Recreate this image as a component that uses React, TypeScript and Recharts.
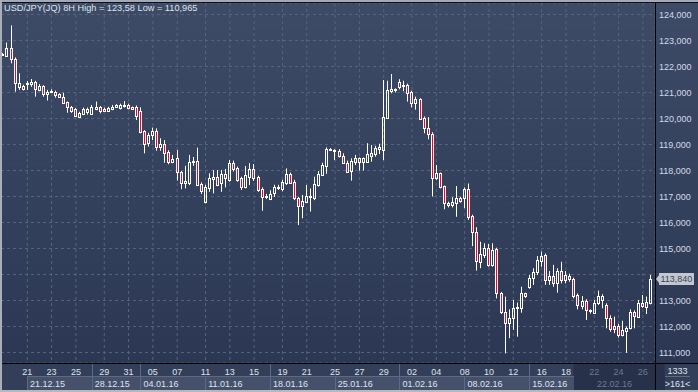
import React from 'react';
import { ComposedChart, Bar, Line, XAxis, YAxis, CartesianGrid } from 'recharts';

const opens = [
  122.46, 122.42, 122.70, 122.30, 121.22, 121.25, 121.33, 121.31, 121.42, 121.10,
  121.25, 120.94, 121.02, 121.03, 120.93, 120.84, 120.63, 120.43, 120.38, 120.07,
  120.17, 120.26, 120.17, 120.35, 120.43, 120.38, 120.30, 120.35, 120.46, 120.40,
  120.50, 120.52, 120.43, 120.43, 120.30, 119.52, 119.05, 119.37, 119.52, 118.92,
  119.02, 118.71, 118.34, 118.47, 117.95, 117.50, 117.50, 118.33, 118.37, 117.48,
  116.80, 117.31, 117.66, 117.76, 117.50, 117.85, 117.64, 118.30, 118.08, 117.70,
  117.38, 117.76, 118.05, 117.74, 117.29, 116.98, 116.89, 117.12, 117.32, 117.28,
  117.53, 117.87, 117.57, 116.93, 116.63, 116.80, 116.97, 116.93, 117.44, 117.83,
  118.17, 118.80, 118.75, 118.76, 118.56, 118.30, 117.99, 118.34, 118.47, 118.34,
  118.34, 118.56, 118.63, 118.82, 118.79, 120.01, 121.07, 121.08, 121.42, 121.24,
  121.29, 121.03, 120.61, 120.74, 120.01, 119.62, 119.40, 117.70, 117.89, 117.40,
  116.74, 116.69, 116.76, 116.93, 116.93, 117.29, 116.25, 115.62, 114.49, 114.75,
  115.01, 114.37, 114.98, 113.27, 112.57, 112.15, 112.31, 112.70, 112.70, 113.27,
  113.51, 113.85, 114.11, 114.53, 114.75, 113.79, 113.94, 113.66, 114.13, 113.79,
  113.94, 113.81, 113.21, 112.79, 112.98, 112.62, 112.53, 112.89, 113.00, 112.83,
  112.31, 112.02, 112.02, 111.67, 111.84, 111.93, 112.57, 112.38, 112.92, 112.76,
  112.89,
];
const highs = [
  122.52, 122.92, 123.58, 122.35, 121.74, 121.30, 121.44, 121.52, 121.45, 121.32,
  121.28, 121.10, 121.12, 121.07, 120.97, 120.99, 120.65, 120.48, 120.40, 120.26,
  120.42, 120.42, 120.52, 120.65, 120.48, 120.42, 120.45, 120.52, 120.55, 120.57,
  120.67, 120.57, 120.46, 120.50, 120.43, 119.55, 119.45, 119.65, 119.62, 119.24,
  119.17, 118.78, 118.60, 118.79, 117.98, 118.18, 118.60, 118.52, 118.88, 117.54,
  117.45, 117.89, 118.02, 118.02, 118.02, 118.06, 118.40, 118.38, 118.15, 117.76,
  118.17, 118.28, 118.25, 117.80, 117.35, 117.10, 117.24, 117.45, 117.45, 117.64,
  118.08, 117.92, 117.64, 116.99, 117.06, 117.44, 117.31, 117.76, 117.98, 118.30,
  118.89, 118.86, 118.82, 118.82, 118.66, 118.38, 118.47, 118.60, 118.50, 118.50,
  119.05, 118.98, 118.95, 119.03, 121.48, 121.45, 121.71, 121.16, 121.51, 121.45,
  121.34, 121.07, 120.84, 120.78, 120.08, 120.05, 119.47, 118.21, 117.92, 117.42,
  116.80, 116.97, 117.40, 116.99, 117.35, 117.50, 116.30, 115.82, 115.26, 115.20,
  115.17, 115.20, 115.03, 113.33, 113.15, 112.66, 113.02, 112.92, 113.53, 113.30,
  113.98, 114.24, 114.71, 114.88, 114.81, 114.13, 114.37, 114.24, 114.49, 114.13,
  114.03, 113.88, 113.27, 113.17, 113.05, 112.66, 113.02, 113.38, 113.24, 112.89,
  112.43, 112.38, 112.10, 112.22, 112.00, 112.66, 112.62, 113.02, 113.21, 113.15,
  113.98,
];
const lows = [
  122.43, 122.40, 122.12, 121.03, 121.10, 121.08, 121.10, 121.22, 120.84, 121.05,
  120.84, 120.69, 120.98, 120.80, 120.80, 120.58, 120.22, 120.22, 120.07, 120.02,
  120.13, 120.15, 120.15, 120.32, 120.20, 120.25, 120.26, 120.32, 120.42, 120.35,
  120.42, 120.35, 120.33, 119.94, 119.43, 118.66, 118.92, 119.17, 118.76, 118.76,
  118.30, 118.24, 118.28, 117.61, 117.28, 117.31, 117.44, 118.18, 117.40, 117.10,
  116.74, 117.18, 117.12, 117.40, 117.18, 117.35, 117.57, 117.96, 117.57, 117.25,
  117.31, 117.44, 117.60, 117.18, 116.45, 116.90, 116.86, 116.98, 117.25, 117.20,
  117.44, 117.50, 116.86, 115.90, 116.16, 116.76, 116.42, 116.86, 117.38, 117.80,
  117.87, 118.77, 118.40, 118.50, 118.25, 117.92, 117.61, 118.21, 117.99, 118.00,
  118.30, 118.34, 118.53, 118.63, 118.40, 119.98, 120.97, 121.00, 121.12, 121.05,
  120.65, 120.43, 120.34, 119.94, 119.43, 119.20, 117.00, 117.64, 117.31, 116.51,
  116.58, 116.58, 116.22, 116.76, 116.55, 116.10, 115.09, 114.15, 114.24, 114.63,
  114.30, 114.30, 113.08, 112.48, 110.965, 111.55, 111.87, 111.61, 112.53, 113.10,
  113.45, 113.60, 113.98, 114.30, 113.60, 113.60, 113.53, 113.30, 113.66, 113.66,
  113.72, 113.08, 112.66, 112.66, 112.25, 112.50, 112.48, 112.83, 112.70, 111.93,
  111.80, 111.74, 111.57, 111.62, 110.99, 111.89, 111.93, 112.35, 112.72, 112.48,
  112.85,
];
const closes = [
  122.49, 122.70, 122.28, 121.35, 121.35, 121.12, 121.38, 121.42, 121.12, 121.25,
  120.94, 121.03, 121.06, 120.90, 120.84, 120.61, 120.43, 120.30, 120.11, 120.20,
  120.35, 120.35, 120.43, 120.45, 120.30, 120.30, 120.40, 120.43, 120.50, 120.51,
  120.53, 120.40, 120.36, 120.11, 119.49, 119.02, 119.37, 119.52, 118.92, 119.02,
  118.68, 118.34, 118.43, 117.95, 117.50, 117.60, 118.32, 118.38, 117.44, 117.22,
  117.38, 117.70, 117.76, 117.44, 117.85, 117.70, 118.30, 118.05, 117.64, 117.38,
  117.83, 118.05, 117.73, 117.25, 116.97, 117.02, 117.10, 117.35, 117.36, 117.57,
  117.87, 117.53, 116.93, 116.63, 116.83, 117.00, 117.02, 117.48, 117.87, 118.21,
  118.83, 118.83, 118.79, 118.56, 118.28, 117.95, 118.38, 118.47, 118.34, 118.47,
  118.63, 118.68, 118.88, 118.90, 120.07, 121.10, 121.12, 121.13, 121.22, 121.28,
  120.99, 120.61, 120.74, 119.97, 119.62, 119.40, 117.70, 117.89, 117.38, 116.74,
  116.66, 116.78, 116.93, 116.83, 117.29, 116.22, 115.62, 114.53, 114.79, 115.01,
  114.37, 114.94, 113.27, 112.57, 112.15, 112.31, 112.70, 112.74, 113.27, 113.17,
  113.85, 114.11, 114.56, 114.71, 113.79, 113.94, 113.66, 114.13, 113.79, 113.98,
  113.81, 113.17, 112.83, 112.98, 112.63, 112.58, 112.92, 113.17, 113.17, 112.31,
  111.89, 111.89, 111.67, 111.86, 111.93, 112.57, 112.42, 112.92, 112.78, 112.95,
  113.84,
];

const dayTickIdx = [6, 12, 18, 25, 31, 37, 43, 50, 56, 62, 69, 75, 82, 88, 94, 101, 107, 114, 120, 126, 133, 139, 146, 152, 158];
const dayTickLabels = ['21', '23', '25', '29', '31', '05', '07', '11', '13', '15', '19', '21', '25', '27', '29', '02', '04', '08', '10', '12', '16', '18', '22', '24', '26'];
const weekTickIdx = [6, 22, 34, 50, 66, 82, 98, 114, 130, 146];
const weekTickLabels = ['21.12.15', '28.12.15', '04.01.16', '11.01.16', '18.01.16', '25.01.16', '01.02.16', '08.02.16', '15.02.16', '22.02.16'];
const currentFromIdx = 141;
const priceTicks = [111, 112, 113, 114, 115, 116, 117, 118, 119, 120, 121, 122, 123, 124];
const priceDomain = [110.596, 124.442];
const titleText = 'USD/JPY(JQ) 8H High = 123,58 Low = 110,965';
const barsTotal = '1333';
const barsVisible = '>161<';

const N = opens.length;
const lastClose = closes[N - 1];
const data = opens.map((o, i) => ({
  i,
  open: o,
  high: highs[i],
  low: lows[i],
  close: closes[i],
  range: [lows[i], highs[i]],
}));

const FONT = '"Liberation Sans", Arial, sans-serif';
const RED = '#f0002c';
const TEXT = '#dfe4ec';
const DIM_TEXT = '#6e798e';
const DIM_BG = '#27314a';
const BOX_BG = '#45516b';
const BORDER = '#5e6a83';
const GRID = '#56647f';

const fmtPrice = (v: number) => v.toFixed(3).replace('.', ',');

const Candle = (props: any) => {
  const { x, y, width, height, payload } = props;
  if (!payload || x == null) return <g />;
  const { open, close, high, low } = payload;
  const top = Math.min(y, y + height);
  const span = Math.abs(height);
  const k = span / (high - low);
  const py = (v: number) => top + (high - v) * k;
  const cx = Math.floor(x + width / 2) + 0.5;
  const yH = py(high);
  const yL = py(low);
  const yT = Math.round(py(Math.max(open, close))) + 0.5;
  let yB = Math.round(py(Math.min(open, close))) + 0.5;
  if (yB - yT < 1) yB = yT + 1;
  const bear = close < open;
  return (
    <g>
      {yT > yH && <line x1={cx} x2={cx} y1={yH} y2={yT} stroke="#ffffff" strokeWidth={1} />}
      {yL > yB && <line x1={cx} x2={cx} y1={yB} y2={yL} stroke="#ffffff" strokeWidth={1} />}
      <rect x={cx - 1} y={yT} width={2} height={yB - yT} fill={bear ? RED : 'none'} stroke="#ffffff" strokeWidth={1} />
    </g>
  );
};

const DayTick = (props: any) => {
  const { x, y, payload } = props;
  const idx = payload.value;
  const k = dayTickIdx.indexOf(idx);
  const band = 2 * (payload.offset || 2.025);
  const dim = idx >= currentFromIdx;
  const firstDim = idx === dayTickIdx.find((v) => v >= currentFromIdx);
  const left = x - (idx - currentFromIdx) * band - 0.5;
  return (
    <g>
      {firstDim && <rect x={left} y={y} width={(N - currentFromIdx) * band + 10} height={13} fill={DIM_BG} />}
      <text x={x} y={y + 12} textAnchor="middle" fontFamily={FONT} fontSize={9} fill={dim ? DIM_TEXT : TEXT}>
        {dayTickLabels[k]}
      </text>
    </g>
  );
};

const WeekTick = (props: any) => {
  const { x, y, payload } = props;
  const idx = payload.value;
  const k = weekTickIdx.indexOf(idx);
  const band = 2 * (payload.offset || 2.025);
  const isLast = k === weekTickIdx.length - 1;
  const start = isLast ? currentFromIdx : idx;
  const end = isLast ? N : k + 1 === weekTickIdx.length - 1 ? currentFromIdx : weekTickIdx[k + 1];
  const left = Math.round(x - (idx - start) * band - 0.5);
  const right = Math.round(x + (end - idx) * band - 0.5) + (isLast ? 10 : 0);
  const labeledDay = dayTickIdx.includes(start);
  return (
    <g>
      <rect x={left} y={y} width={right - left} height={14} fill={isLast ? DIM_BG : BOX_BG} />
      {!isLast && <line x1={left} x2={right} y1={y + 0.5} y2={y + 0.5} stroke={BORDER} />}
      {!isLast && (
        <line x1={left + 0.5} x2={left + 0.5} y1={labeledDay ? y : y - 13} y2={y + 14} stroke={BORDER} />
      )}
      <text x={x + 2.7} y={y + 10.7} fontFamily={FONT} fontSize={9} fill={isLast ? DIM_TEXT : TEXT}>
        {weekTickLabels[k]}
      </text>
    </g>
  );
};

// tick labels hidden behind the last-price tag are not drawn (as in the original chart)
const PriceTick = (props: any) => {
  const { x, y, payload } = props;
  if (Math.abs(payload.value - lastClose) < 0.45) return <g />;
  return (
    <text x={x + 4} y={y + 3.3} fontFamily={FONT} fontSize={9} fill="#d3dae6">
      {fmtPrice(payload.value)}
    </text>
  );
};

const PriceTag = (props: any) => {
  const { cx, cy, index } = props;
  if (index !== N - 1 || cx == null) return <g key={`d${index}`} />;
  const tip = cx + 5;
  const c = Math.round(cy);
  return (
    <g key={`d${index}`}>
      <polygon points={`${tip},${c} ${tip + 3.5},${c - 4.5} ${tip + 3.5},${c + 4.5}`} fill="#c3c7cf" />
      <rect x={tip + 3} y={c - 6} width={35} height={12} fill="#c3c7cf" />
      <text x={tip + 4.5} y={c + 3.3} fontFamily={FONT} fontSize={9} fill="#3a4560">
        {fmtPrice(lastClose)}
      </text>
    </g>
  );
};

export default function App() {
  return (
    <div style={{ position: 'absolute', left: 0, top: 0, width: 698, height: 392, overflow: 'hidden' }}>
      <svg width={698} height={392} style={{ position: 'absolute', left: 0, top: 0 }}>
        <defs>
          <linearGradient id="bg" x1="0" y1="0" x2="0" y2="1">
            <stop offset="0" stopColor="#3d4b67" />
            <stop offset="1" stopColor="#2c3853" />
          </linearGradient>
        </defs>
        <rect x={0} y={0} width={698} height={363} fill="url(#bg)" />
        <rect x={0} y={363} width={698} height={29} fill="#333e58" />
      </svg>
      <div style={{ position: 'absolute', left: 0, top: 0 }}>
        <ComposedChart width={698} height={392} data={data} margin={{ top: 3, right: 0, bottom: 0, left: 1 }}>
          <CartesianGrid xAxisId="day" yAxisId="p" stroke={GRID} strokeDasharray="3 3" />
          <XAxis
            xAxisId="day"
            dataKey="i"
            type="category"
            ticks={dayTickIdx}
            interval={0}
            height={13}
            tickSize={0}
            tickMargin={0}
            axisLine={false}
            tickLine={false}
            tick={<DayTick />}
            padding={{ left: 0, right: 2 }}
          />
          <XAxis
            xAxisId="week"
            dataKey="i"
            type="category"
            ticks={weekTickIdx}
            interval={0}
            height={16}
            tickSize={0}
            tickMargin={0}
            axisLine={false}
            tickLine={false}
            tick={<WeekTick />}
            padding={{ left: 0, right: 2 }}
          />
          <YAxis
            yAxisId="p"
            orientation="right"
            type="number"
            width={43}
            domain={priceDomain}
            ticks={priceTicks}
            interval={0}
            axisLine={false}
            tickLine={false}
            tickSize={0}
            tickMargin={0}
            tick={<PriceTick />}
          />
          <Bar xAxisId="day" yAxisId="p" dataKey="range" shape={<Candle />} isAnimationActive={false} />
          <Line
            xAxisId="week"
            yAxisId="p"
            dataKey="close"
            stroke="none"
            isAnimationActive={false}
            dot={(p: any) => <PriceTag key={`d${p.index}`} {...p} />}
            activeDot={false}
          />
        </ComposedChart>
      </div>
      <svg width={698} height={392} style={{ position: 'absolute', left: 0, top: 0, pointerEvents: 'none' }}>
        <rect x={0} y={0} width={698} height={2} fill="#a3aab6" />
        <rect x={0} y={0} width={2} height={392} fill="#a9afb9" />
        <rect x={0} y={390} width={698} height={2} fill="#b3b8c1" />
        <line x1={2} x2={698} y1={2.5} y2={2.5} stroke="#0b0f18" />
        <line x1={2} x2={698} y1={363.5} y2={363.5} stroke="#000000" />
        <line x1={655.5} x2={655.5} y1={2} y2={390} stroke="#000000" />
        <text x={4} y={11} fontFamily={FONT} fontSize={9.2} fill={TEXT}>
          {titleText}
        </text>
        <text x={677.5} y={373.5} textAnchor="middle" fontFamily={FONT} fontSize={9} fill={TEXT}>
          {barsTotal}
        </text>
        <line x1={665} x2={690} y1={376.5} y2={376.5} stroke={BORDER} />
        <text x={677.5} y={387} textAnchor="middle" fontFamily={FONT} fontSize={9} fill={TEXT}>
          {barsVisible}
        </text>
      </svg>
    </div>
  );
}
